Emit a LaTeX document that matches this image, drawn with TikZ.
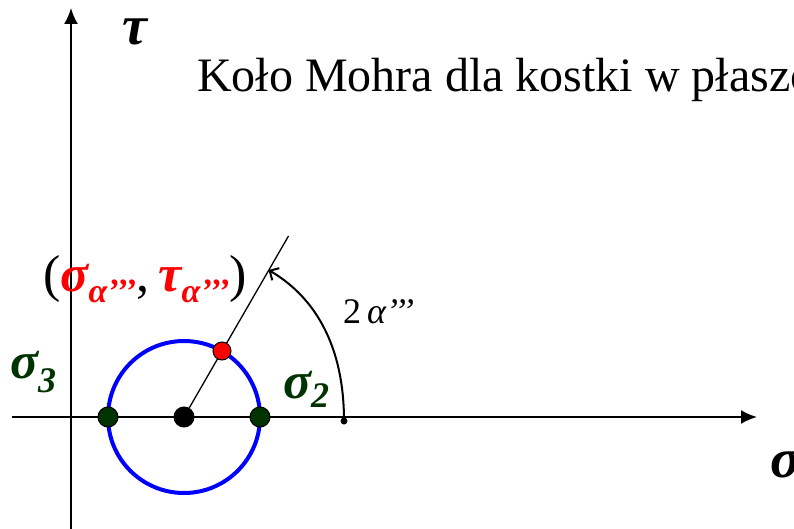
\documentclass[tikz,border=0pt]{standalone}
\usepackage{fontspec}
\setmainfont{Liberation Serif}
\usetikzlibrary{arrows.meta}
\definecolor{dgreen}{RGB}{0,51,0}
\begin{document}
\begin{tikzpicture}[x=1pt,y=-1pt,
  axis/.style={line width=2pt,-{Latex[length=16pt,width=14pt]}},
  dotn/.style={circle,draw=black,line width=1pt,inner sep=0pt,minimum size=#1},
  lbl/.style={inner sep=0pt,anchor=base west},
  gk/.style={font=\fontsize{#1}{#1}\selectfont\bfseries\itshape}
]
\useasboundingbox (0,0) rectangle (794,529);
\clip (0,0) rectangle (794,529);
% axes
\coordinate (xs) at (12,417);
\coordinate (xe) at (757,417);
\coordinate (ys) at (71,529);
\coordinate (ye) at (71,8);
\draw[axis] (xs) -- (xe);
\draw[axis] (ys) -- (ye);
% radius line
\coordinate (c0) at (184,417);
\coordinate (le) at (288.5,236);
\draw[line width=1.3pt] (c0) -- (le);
% circle
\draw[blue, line width=4pt] (c0) circle[radius=76pt];
% dots
\node[dotn=20pt, fill=black] (cd) at (c0) {};
\node[dotn=20pt, fill=dgreen] (g3) at (108,417) {};
\node[dotn=20pt, fill=dgreen] (g2) at (260,417) {};
\node[dotn=18pt, fill=red] (rd) at (222,351) {};
\node[circle,fill=black,inner sep=0pt,minimum size=7pt] (sd) at (344,421) {};
% angle arc
\coordinate (ah) at (268.5,270);
\draw[line width=2pt,-{Straight Barb[length=7pt,width=14pt]}] (sd.center) .. controls (344,337) and (308,293) .. (ah);
% texts
\node[lbl] (title) at (197,92) {\fontsize{48}{48}\selectfont Koło Mohra dla kostki w płaszczyźnie};
\node[lbl,gk=56] (tau) at (122,45) {τ};
\node[lbl,gk=56] (sig) at (770,477) {σ};
\node[lbl,gk=52,text=dgreen] (s3) at (10,378) {σ\raisebox{-0.28em}{\fontsize{36}{36}\selectfont 3}};
\node[lbl,gk=52,text=dgreen] (s2) at (283,398) {σ\raisebox{-0.18em}{\fontsize{36}{36}\selectfont 2}};
\node[lbl] (ang) at (343,323) {\fontsize{36}{36}\selectfont 2\,\textit{α’’’}};
\node[lbl] (pt) at (43,291) {\fontsize{52}{52}\selectfont (\textcolor{red}{\bfseries\itshape σ\raisebox{-0.22em}{\fontsize{34}{34}\selectfont α’’’}},\hspace{0.18em}\textcolor{red}{\bfseries\itshape τ\raisebox{-0.22em}{\fontsize{34}{34}\selectfont α’’’}})};
\end{tikzpicture}
\end{document}
